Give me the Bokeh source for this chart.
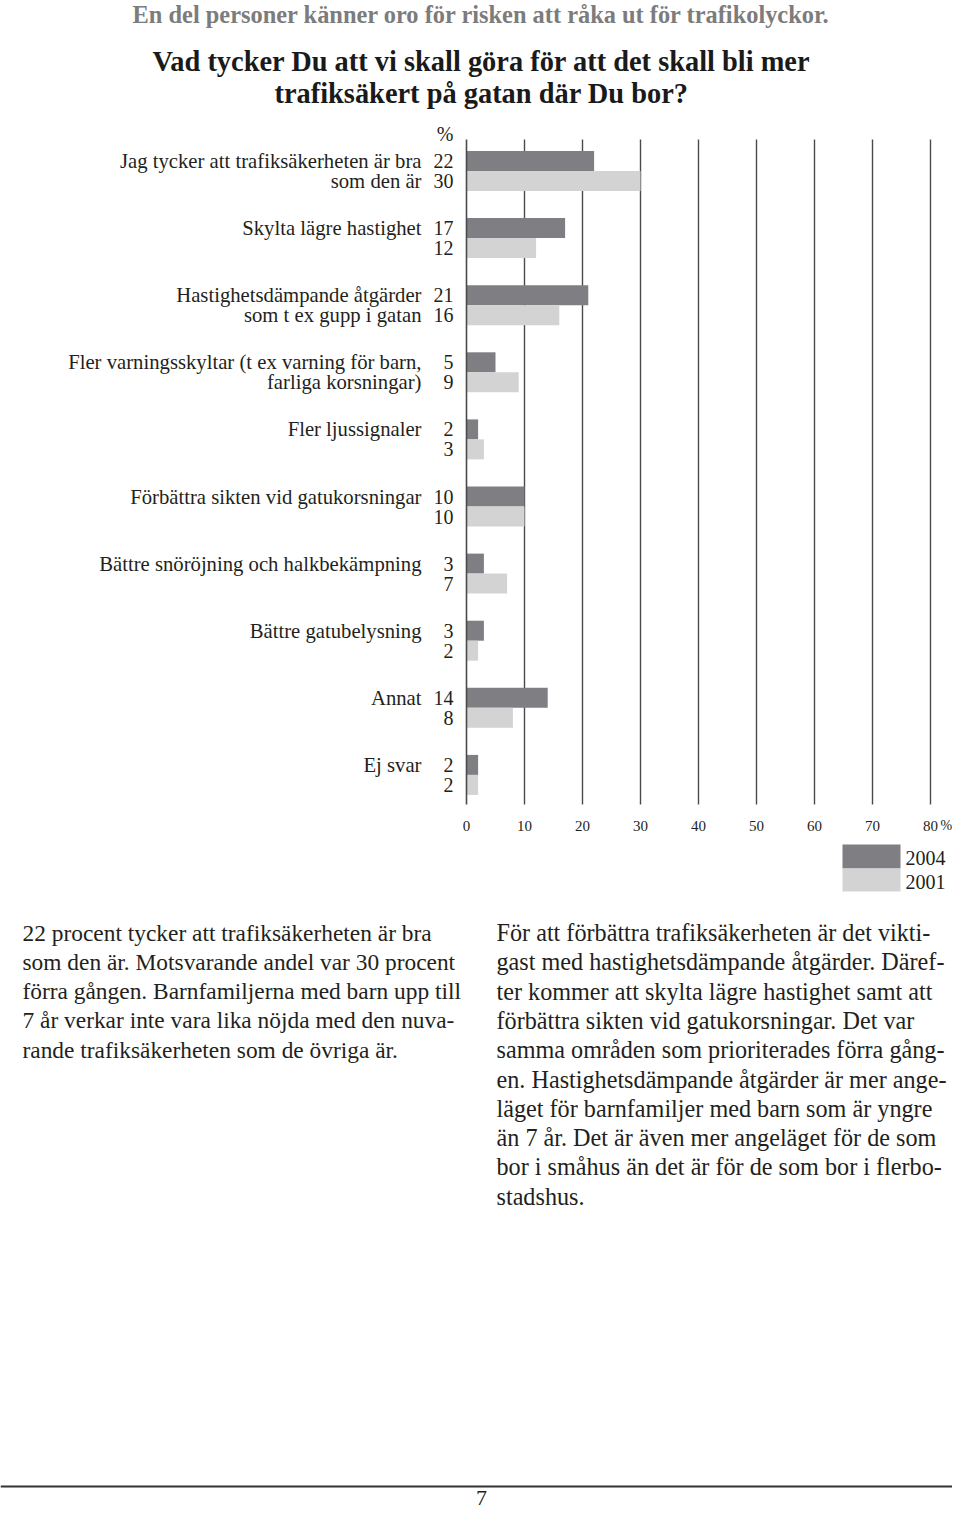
from bokeh.plotting import figure
from bokeh.models import Range1d
from bokeh.core.properties import value
from bokeh.embed import file_html
from bokeh.resources import INLINE

# ---------------- data ----------------
categories_line1 = [
    "Jag tycker att trafiksäkerheten är bra",
    "Skylta lägre hastighet",
    "Hastighetsdämpande åtgärder",
    "Fler varningsskyltar (t ex varning för barn,",
    "Fler ljussignaler",
    "Förbättra sikten vid gatukorsningar",
    "Bättre snöröjning och halkbekämpning",
    "Bättre gatubelysning",
    "Annat",
    "Ej svar",
]
categories_line2 = [
    "som den är",
    "",
    "som t ex gupp i gatan",
    "farliga korsningar)",
    "",
    "",
    "",
    "",
    "",
    "",
]
values_2004 = [22, 17, 21, 5, 2, 10, 3, 3, 14, 2]
values_2001 = [30, 12, 16, 9, 3, 10, 7, 2, 8, 2]
series_names = ["2004", "2001"]
x_ticks = [0, 10, 20, 30, 40, 50, 60, 70, 80]
x_tick_labels = ["0", "10", "20", "30", "40", "50", "60", "70", "80"]

header = "En del personer känner oro för risken att råka ut för trafikolyckor."
question = [
    "Vad tycker Du att vi skall göra för att det skall bli mer",
    "trafiksäkert på gatan där Du bor?",
]
body_left = [
    "22 procent tycker att trafiksäkerheten är bra",
    "som den är. Motsvarande andel var 30 procent",
    "förra gången. Barnfamiljerna med barn upp till",
    "7 år verkar inte vara lika nöjda med den nuva-",
    "rande trafiksäkerheten som de övriga är.",
]
body_right = [
    "För att förbättra trafiksäkerheten är det vikti-",
    "gast med hastighetsdämpande åtgärder. Däref-",
    "ter kommer att skylta lägre hastighet samt att",
    "förbättra sikten vid gatukorsningar. Det var",
    "samma områden som prioriterades förra gång-",
    "en. Hastighetsdämpande åtgärder är mer ange-",
    "läget för barnfamiljer med barn som är yngre",
    "än 7 år. Det är även mer angeläget för de som",
    "bor i småhus än det är för de som bor i flerbo-",
    "stadshus.",
]
page_number = "7"

# ---------------- layout helpers ----------------
W, H = 952, 1512
PX_PER_PCT = 5.8
ZERO_X = 466          # canvas px where 0 % sits


def X(px):            # canvas px -> data x (percent)
    return (px - ZERO_X) / PX_PER_PCT


def Y(py):            # canvas px -> data y (flipped range)
    return py


FONT = value("Liberation Serif")
DARK = "#7f7f83"
LIGHT = "#d3d3d3"
INK = "#231f20"

p = figure(width=W, height=H,
           x_range=Range1d(-ZERO_X / PX_PER_PCT, (W - ZERO_X) / PX_PER_PCT),
           y_range=Range1d(H, 0),
           output_backend="svg", toolbar_location=None, min_border=0,
           x_axis_location=None, y_axis_location=None,
           outline_line_color=None, background_fill_color="white",
           border_fill_color="white")
p.grid.visible = False

# titles
p.text(x=[X(481)], y=[Y(14)], text=[header], text_font=FONT, text_font_style="bold",
       text_font_size=value("24.4px"), text_color="#7c7c7c",
       text_align="center", text_baseline="middle")
p.text(x=[X(481), X(481)], y=[Y(61), Y(93)], text=question, text_font=FONT,
       text_font_style="bold", text_font_size=value("28.4px"), text_color="#1a1a1a",
       text_align="center", text_baseline="middle")

# chart geometry
n = len(values_2004)
PITCH = 67.1
BAR_H = 20
dark_c = [Y(150.5 + PITCH * i + BAR_H / 2) for i in range(n)]
light_c = [c + BAR_H for c in dark_c]

# gridlines
p.segment(x0=x_ticks[1:], x1=x_ticks[1:], y0=Y(139), y1=Y(804),
          line_color="#4a4a4a", line_width=1.4)

# bars
p.hbar(y=dark_c, left=0, right=values_2004, height=BAR_H, fill_color=DARK, line_color=None)
p.hbar(y=light_c, left=0, right=values_2001, height=BAR_H, fill_color=LIGHT, line_color=None)

# zero line
p.segment(x0=[0], x1=[0], y0=Y(139), y1=Y(804), line_color="#4a4a4a", line_width=1.6)

# values
p.text(x=[X(453)] * n, y=dark_c, text=[str(v) for v in values_2004], text_font=FONT,
       text_font_size=value("20px"), text_color=INK, text_align="right", text_baseline="middle")
p.text(x=[X(453)] * n, y=light_c, text=[str(v) for v in values_2001], text_font=FONT,
       text_font_size=value("20px"), text_color=INK, text_align="right", text_baseline="middle")
p.text(x=[X(453)], y=[Y(133)], text=["%"], text_font=FONT,
       text_font_size=value("20px"), text_color=INK, text_align="right", text_baseline="middle")

# category labels
p.text(x=[X(421)] * n, y=dark_c, text=categories_line1, text_font=FONT,
       text_font_size=value("20.7px"), text_color=INK, text_align="right", text_baseline="middle")
l2_y = [light_c[i] for i in range(n) if categories_line2[i]]
l2_t = [t for t in categories_line2 if t]
p.text(x=[X(421)] * len(l2_t), y=l2_y, text=l2_t, text_font=FONT,
       text_font_size=value("20.7px"), text_color=INK, text_align="right", text_baseline="middle")

# tick labels
p.text(x=x_ticks, y=[Y(825)] * len(x_ticks), text=x_tick_labels, text_font=FONT,
       text_font_size=value("15px"), text_color=INK, text_align="center", text_baseline="middle")
p.text(x=[X(940)], y=[Y(825)], text=["%"], text_font=FONT,
       text_font_size=value("14px"), text_color=INK, text_align="left", text_baseline="middle")

# legend
p.quad(left=[X(842)] * 2, right=[X(900)] * 2, top=[Y(844), Y(868)], bottom=[Y(868), Y(891)],
       fill_color=[DARK, LIGHT], line_color=None)
p.text(x=[X(905)] * 2, y=[Y(857), Y(881)], text=series_names, text_font=FONT,
       text_font_size=value("20px"), text_color=INK, text_align="left", text_baseline="middle")

# body text
LINE = 29.3
p.text(x=[X(22)] * len(body_left), y=[Y(932 + LINE * i) for i in range(len(body_left))],
       text=body_left, text_font=FONT, text_font_size=value("23.4px"), text_color=INK,
       text_align="left", text_baseline="middle")
p.text(x=[X(496)] * len(body_right), y=[Y(932 + LINE * i) for i in range(len(body_right))],
       text=body_right, text_font=FONT, text_font_size=value("24.2px"), text_color=INK,
       text_align="left", text_baseline="middle")

# footer rule and page number
p.segment(x0=[X(0)], x1=[X(W)], y0=Y(1486), y1=Y(1486), line_color="#333333", line_width=2)
p.text(x=[X(481)], y=[Y(1497)], text=[page_number], text_font=FONT,
       text_font_size=value("22px"), text_color=INK, text_align="center", text_baseline="middle")

open("out.html", "w").write(file_html(p, INLINE))
